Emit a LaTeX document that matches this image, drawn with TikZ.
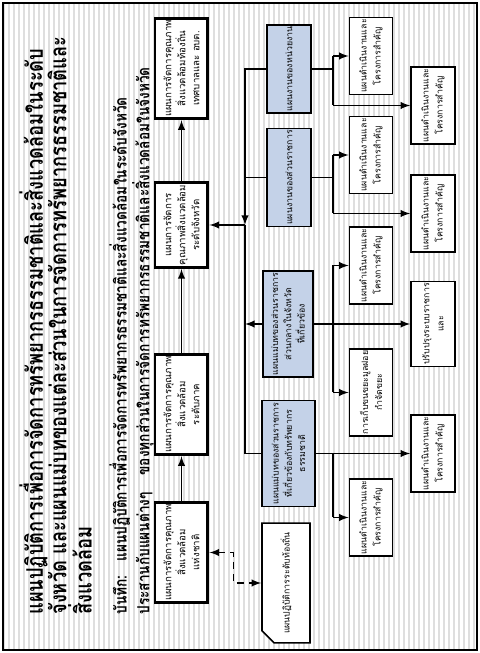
\documentclass[tikz,border=0pt]{standalone}
\usepackage{fontspec}
\newfontfamily\thaifont[Script=Thai]{Loma}
\newfontfamily\headfont[Script=Thai,FakeStretch=0.8]{Loma}
\newfontfamily\memofont[Script=Thai,FakeStretch=0.82]{Loma}
\usetikzlibrary{arrows,shapes.misc}

\definecolor{partfill}{RGB}{196,210,232}
\definecolor{stripegray}{RGB}{222,222,222}

\tikzset{
  plan/.style={draw,line width=1.7pt,fill=white,minimum width=1.7cm,minimum height=1.06cm,
    align=center,inner sep=1pt,font=\thaifont\fontsize{5.5}{8}\selectfont},
  part/.style={draw,line width=0.9pt,fill=partfill,align=center,inner sep=1pt,
    font=\thaifont\fontsize{5}{7.5}\selectfont},
  task/.style={draw,line width=0.9pt,fill=white,minimum width=1.45cm,minimum height=0.86cm,
    align=center,inner sep=1pt,font=\thaifont\fontsize{5}{8}\selectfont},
  card/.style={draw,line width=0.9pt,fill=white,chamfered rectangle,chamfered rectangle corners=north west,
    chamfered rectangle xsep=0.25cm,minimum width=2cm,minimum height=0.96cm,inner sep=1pt,
    font=\thaifont\fontsize{5}{7}\selectfont},
  line/.style={line width=0.9pt},
  flow/.style={line width=0.9pt,-latex},
}

\begin{document}
\begin{tikzpicture}[x=0.02cm,y=0.02cm,rotate=90,transform shape]
\useasboundingbox (0,0) rectangle (653,480);
\fill[white] (0,0) rectangle (653,480);
\foreach \y in {6,11,...,476}
  \draw[stripegray,line width=0.6pt] (4,\y) -- (649,\y);
\draw[line width=1.6pt] (3,3) rectangle (650,477);

% headings
\node[anchor=north west,align=left,inner sep=0pt,font=\headfont\bfseries\fontsize{13}{13.4}\selectfont] (title) at (38,461)
  {แผนปฏิบัติการเพื่อการจัดการทรัพยากรธรรมชาติและสิ่งแวดล้อมในระดับ\\
   จังหวัด และแผนแม่บทของแต่ละส่วนในการจัดการทรัพยากรธรรมชาติและ\\
   สิ่งแวดล้อม};
\node[anchor=north west,align=left,inner sep=0pt,font=\memofont\bfseries\fontsize{9.5}{13}\selectfont] (memo) at (38,371)
  {บันทึก:~~~แผนปฏิบัติการเพื่อการจัดการทรัพยากรธรรมชาติและสิ่งแวดล้อมในระดับจังหวัด\\
   ประสานกับแผนต่างๆ\quad ของทุกส่วนในการจัดการทรัพยากรธรรมชาติและสิ่งแวดล้อมในจังหวัด};

% plan levels
\node[plan] (natplan) at (100.5,298.5) {แผนการจัดการคุณภาพ\\สิ่งแวดล้อม\\แห่งชาติ};
\node[plan] (regplan) at (248.5,298.5) {แผนการจัดการคุณภาพ\\สิ่งแวดล้อม\\ระดับภาค};
\node[plan] (provplan) at (428,298.5) {แผนการจัดการ\\คุณภาพสิ่งแวดล้อม\\ระดับจังหวัด};
\node[plan] (localplan) at (584.5,298.5) {แผนการจัดการคุณภาพ\\สิ่งแวดล้อมท้องถิ่น\\เทศบาลและ อบต.};
\node[card] (localact) at (70,194) {แผนปฏิบัติการระดับท้องถิ่น};

\draw[flow] (natplan) -- (regplan);
\draw[flow] (regplan) -- (provplan);
\draw[flow] (provplan) -- (localplan);
\draw[line,latex-latex,dash pattern=on 4pt off 3pt] (natplan.south) -- ++(0,-24) -| (localact.north);

% parts
\node[part,minimum width=1.44cm,minimum height=0.88cm] (part1) at (584,191) {แผนงานของหน่วยงาน};
\node[part,minimum width=1.42cm,minimum height=0.88cm] (part2) at (475.5,191) {แผนงานของส่วนราชการ};
\node[part,minimum width=2.04cm,minimum height=1cm] (part3) at (329,192) {แผนแม่บทของส่วนราชการ\\ส่วนกลางในจังหวัด\\ที่เกี่ยวข้อง};
\node[part,minimum width=1.98cm,minimum height=1.06cm] (part4) at (199.5,191.5) {แผนแม่บทของส่วนราชการ\\ที่เกี่ยวข้องกับทรัพยากร\\ธรรมชาติ};

\coordinate (hub) at (428,235);
\draw[flow] (part1.north) |- (hub);
\draw[line] (part2.north) -- (part2.north |- hub);
\draw[flow] (part3.north) -- (part3.north |- hub);
\draw[line] (part4.north) |- (hub);
\draw[flow] (hub) -- (provplan.south);

% tasks and projects
\node[task] (task1) at (597,109) {แผนดำเนินงานและ\\โครงการสำคัญ};
\node[task] (task2) at (498,109) {แผนดำเนินงานและ\\โครงการสำคัญ};
\node[task] (task3) at (387.5,109) {แผนดำเนินงานและ\\โครงการสำคัญ};
\node[task] (task4) at (260.5,109) {การเก็บขนขยะมูลฝอย\\กำจัดขยะ};
\node[task] (task5) at (135.5,109) {แผนดำเนินงานและ\\โครงการสำคัญ};
\node[task,minimum height=0.88cm] (proj1) at (547.5,47) {แผนดำเนินงานและ\\โครงการสำคัญ};
\node[task,minimum height=0.88cm] (proj2) at (439.5,47) {แผนดำเนินงานและ\\โครงการสำคัญ};
\node[task,minimum height=0.88cm] (proj3) at (329,47) {ปรับปรุงระบบราชการ\\และ};
\node[task,minimum height=0.88cm] (proj4) at (199.5,47) {แผนดำเนินงานและ\\โครงการสำคัญ};

\coordinate (rail) at (0,147);
\draw[line] (part1.south) -- (part1.south |- rail);
\draw[line] (task1.north |- rail) -- (proj1.north |- rail);
\draw[flow] (task1.north |- rail) -- (task1.north);
\draw[flow] (proj1.north |- rail) -- (proj1.north);

\draw[line] (part2.south) -- (part2.south |- rail);
\draw[line] (task2.north |- rail) -- (proj2.north |- rail);
\draw[flow] (task2.north |- rail) -- (task2.north);
\draw[flow] (proj2.north |- rail) -- (proj2.north);

\draw[flow] (part3.south) -- (proj3.north);
\draw[line] (task3.north |- rail) -- (task4.north |- rail);
\draw[flow] (task3.north |- rail) -- (task3.north);
\draw[flow] (task4.north |- rail) -- (task4.north);

\draw[flow] (part4.south) -- (proj4.north);
\draw[line] (part4.south |- rail) -- (task5.north |- rail);
\draw[flow] (task5.north |- rail) -- (task5.north);
\end{tikzpicture}
\end{document}
